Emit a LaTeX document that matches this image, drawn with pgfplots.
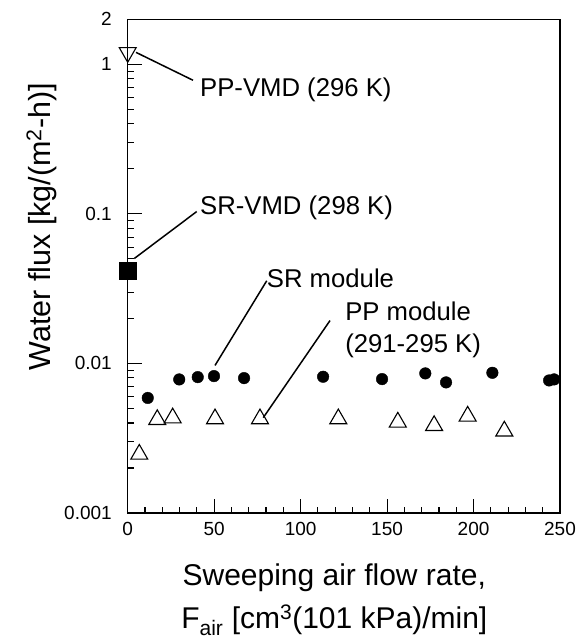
\documentclass[border=0pt]{standalone}
\usepackage{pgfplots}
\pgfplotsset{compat=1.18}
\usepackage{fontspec}
\setmainfont{Liberation Sans}
\newcommand{\tlab}[1]{\mbox{\fontsize{19}{21}\selectfont #1}}
\begin{document}
\begin{tikzpicture}
\begin{axis}[
  name=ax,
  scale only axis, width=432.3pt, height=493.7pt,
  xmin=0, xmax=250, ymode=log, ymin=0.001, ymax=2,
  xtick={0,50,100,150,200,250}, minor x tick num=4,
  xticklabels={\tlab{0},\tlab{50},\tlab{100},\tlab{150},\tlab{200},\tlab{250}},
  ytick={0.001,0.01,0.1,1,2}, yticklabels={\tlab{0.001},\tlab{0.01},\tlab{0.1},\tlab{1},\tlab{2}},
  minor ytick={0.002,0.003,0.004,0.005,0.006,0.007,0.008,0.009,0.02,0.03,0.04,0.05,0.06,0.07,0.08,0.09,0.2,0.3,0.4,0.5,0.6,0.7,0.8,0.9},
  tick align=inside, xtick pos=bottom, ytick pos=left,
  major tick length=14pt, minor tick length=6pt,
  axis line style={line width=1.6pt},
  every tick/.style={black, line width=1.1pt},
  /pgf/number format/assume math mode=true,
  xticklabel style={yshift=-5.7pt},
  yticklabel style={xshift=-12.4pt},
  clip=false,
  xlabel={Sweeping air flow rate,\\F\textsubscript{air} [cm\textsuperscript{3}(101 kPa)/min]},
  xlabel style={font=\fontsize{30}{43}\selectfont, align=center, at={(axis description cs:0.478,0)}, anchor=north, yshift=-51pt, inner sep=0pt},
  ylabel={Water flux [kg/(m\textsuperscript{2}-h)]},
  ylabel style={font=\fontsize{30.5}{36}\selectfont, at={([xshift=-77.2pt]axis description cs:0,0.580)}, anchor=base, inner sep=0pt},
]
% SR module
\addplot[only marks, mark=*, mark size=5.8pt, mark options={fill=black, draw=black}] coordinates {
(11.6,0.00588) (29.8,0.00782) (40.5,0.0081) (49.9,0.00823) (67.3,0.00798) (113,0.00815) (147.1,0.00786) (172.1,0.00858) (184.1,0.00747) (210.9,0.00866) (243.7,0.0077) (246.6,0.00782)
};
% PP module
\addplot[only marks, mark=triangle, mark size=9.8pt, mark options={draw=black, line width=1.1pt}] coordinates {
(6.7,0.00247) (17.1,0.00421) (26,0.00432) (50.5,0.00426) (76.5,0.00426) (121.8,0.00426) (156.2,0.00405) (177.2,0.00384) (196.6,0.00444) (217.8,0.00353)
};
% PP-VMD
\addplot[only marks, mark=triangle, mark size=9.8pt, mark options={draw=black, line width=1.1pt, rotate=180}] coordinates {(0,1.2)};
% SR-VMD
\addplot[only marks, mark=square*, mark size=8.3pt, mark options={fill=black, draw=black}] coordinates {(0,0.0417)};

\tikzset{ann/.style={anchor=base west, inner sep=0pt, font=\fontsize{25.7}{30}\selectfont}}
\node[ann] at (axis cs:41.8,0.612) {PP-VMD (296 K)};
\draw[line width=1.5pt] (axis cs:4.8,1.202) -- (axis cs:37.8,0.782);
\node[ann] at (axis cs:41.8,0.0995) {SR-VMD (298 K)};
\draw[line width=1.5pt] (axis cs:3.8,0.0503) -- (axis cs:39.9,0.1036);
\node[ann] at (axis cs:80.4,0.0323) {SR module};
\draw[line width=1.5pt] (axis cs:50.5,0.0097) -- (axis cs:80.4,0.0357);
\node[ann] at (axis cs:125.7,0.01936) {PP module};
\node[ann] at (axis cs:125.7,0.01189) {(291-295 K)};
\draw[line width=1.5pt] (axis cs:78.4,0.00434) -- (axis cs:117,0.01936);
\end{axis}
\pgfresetboundingbox
\path ([xshift=-127.7pt,yshift=-127pt]ax.south west) rectangle ([xshift=17pt,yshift=19.3pt]ax.north east);
\end{tikzpicture}
\end{document}
